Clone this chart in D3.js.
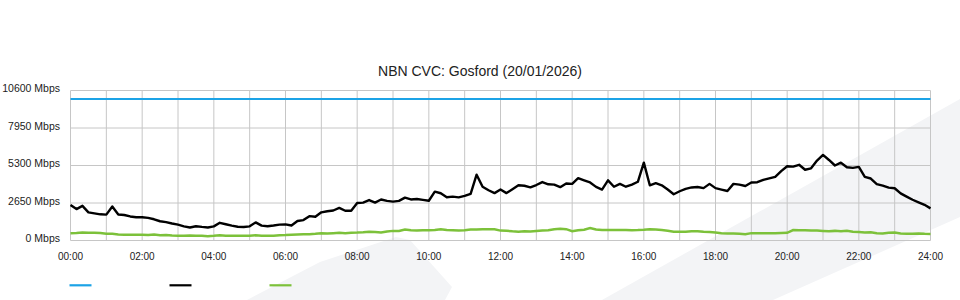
<!DOCTYPE html>
<html>
<head>
<meta charset="utf-8">
<script src="https://cdn.jsdelivr.net/npm/d3@7"></script>
<style>
  body { margin: 0; background: #fff; }
  text { font-family: "Liberation Sans", Arial, sans-serif; fill: #222; }
</style>
</head>
<body>
<svg id="chart" width="960" height="300"></svg>
<script>
// chart values (Mbps), one sample every 10 minutes from 00:00 to 24:00
const title = "NBN CVC: Gosford (20/01/2026)";
const stepMinutes = 10;

const capacity = [10000, 10000]; // flat line, 00:00 -> 24:00

const traffic = [
  2510, 2220, 2450, 1990, 1920, 1850,
  1830, 2400, 1840, 1800, 1700, 1640,
  1640, 1600, 1500, 1360, 1300, 1200,
  1120, 1000, 920, 1010, 960, 920,
  1000, 1250, 1150, 1050, 970, 950,
  1000, 1280, 1050, 1010, 1060, 1120,
  1140, 1060, 1380, 1440, 1720, 1680,
  1990, 2070, 2120, 2300, 2100, 2100,
  2650, 2680, 2860, 2680, 2900, 2800,
  2750, 2800, 3030, 2900, 2930, 2870,
  2810, 3450, 3340, 3060, 3100, 3050,
  3150, 3300, 4650, 3800, 3550, 3350,
  3600, 3350, 3620, 3900, 3870, 3760,
  3920, 4130, 3970, 3950, 3770, 4030,
  4000, 4400, 4250, 4100, 3790, 3600,
  4250, 3800, 4000, 3800, 3950, 4150,
  5500, 3900, 4050, 3900, 3600, 3270,
  3480, 3650, 3750, 3780, 3700, 4000,
  3700, 3600, 3500, 4000, 3950, 3850,
  4100, 4120, 4280, 4390, 4500, 4900,
  5250, 5220, 5350, 5000, 5100, 5650,
  6050, 5690, 5300, 5500, 5180, 5130,
  5200, 4500, 4380, 3990, 3880, 3740,
  3690, 3330, 3100, 2880, 2700, 2520,
  2270
];

const upstream = [
  510, 530, 560, 540, 540, 530,
  470, 470, 420, 400, 400, 400,
  400, 390, 420, 370, 380, 350,
  340, 340, 360, 340, 340, 300,
  330, 370, 340, 340, 340, 340,
  340, 370, 340, 330, 340, 370,
  380, 400, 420, 440, 440, 470,
  510, 500, 520, 540, 520, 550,
  560, 580, 620, 600, 560, 640,
  680, 680, 780, 720, 700, 730,
  730, 750, 800, 740, 720, 700,
  720, 780, 780, 800, 800, 800,
  700, 690, 650, 620, 650, 630,
  670, 700, 720, 800, 830, 800,
  660, 730, 760, 880, 780, 750,
  750, 750, 750, 750, 730, 740,
  760, 800, 780, 740, 690, 620,
  610, 620, 650, 660, 620, 600,
  560, 520, 500, 490, 480, 440,
  520, 520, 520, 520, 520, 530,
  540, 740, 720, 720, 710, 700,
  680, 660, 680, 650, 690, 620,
  600, 560, 590, 520, 500, 540,
  570, 500, 480, 480, 500, 470,
  460
];

const yTicks = [0, 2650, 5300, 7950, 10600];
const xTickLabels = ["00:00", "02:00", "04:00", "06:00", "08:00", "10:00", "12:00",
                     "14:00", "16:00", "18:00", "20:00", "22:00", "24:00"];

const colors = { capacity: "#1ca3e6", traffic: "#000000", upstream: "#7cc13a" };

const svg = d3.select("#chart");

// faint background watermark shapes
const bg = svg.append("g").attr("fill", "#f3f4f6");
bg.append("polygon").attr("points", "960,99 602,300 773,300 960,217");
bg.append("polygon").attr("points", "247,300 320,262 396,237 410,240 452,287 445,300");

const x = d3.scaleLinear().domain([0, 1440]).range([70.5, 930.5]);
const y = d3.scaleLinear().domain([0, 10600]).range([240.5, 90.5]);

// grid
const grid = svg.append("g").attr("stroke", "#c6c6c6").attr("stroke-width", 1);
grid.selectAll("line.v")
  .data(d3.range(0, 1441, 60))
  .enter().append("line")
  .attr("x1", d => x(d)).attr("x2", d => x(d))
  .attr("y1", y(10600)).attr("y2", y(0));
grid.selectAll("line.h")
  .data(yTicks)
  .enter().append("line")
  .attr("x1", x(0)).attr("x2", x(1440))
  .attr("y1", d => y(d)).attr("y2", d => y(d));

// y labels
svg.append("g").selectAll("text")
  .data(yTicks)
  .enter().append("text")
  .attr("x", 60)
  .attr("y", d => y(d) + 1.5)
  .attr("text-anchor", "end")
  .attr("font-size", "10.5px")
  .text(d => d + " Mbps");

// x labels
svg.append("g").selectAll("text")
  .data(xTickLabels)
  .enter().append("text")
  .attr("x", (d, i) => x(i * 120))
  .attr("y", 259.5)
  .attr("text-anchor", "middle")
  .attr("font-size", "10px")
  .text(d => d);

// title
svg.append("text")
  .attr("x", 480).attr("y", 76)
  .attr("text-anchor", "middle")
  .attr("font-size", "14px")
  .text(title);

const line = d3.line()
  .x(d => x(d.t))
  .y(d => y(d.v));

function series(values, step) {
  return values.map((v, i) => ({t: i * step, v}));
}

svg.append("path")
  .datum(series(capacity, 1440))
  .attr("fill", "none")
  .attr("stroke", colors.capacity)
  .attr("stroke-width", 2.2)
  .attr("d", line);

svg.append("path")
  .datum(series(upstream, stepMinutes))
  .attr("fill", "none")
  .attr("stroke", colors.upstream)
  .attr("stroke-width", 2.5)
  .attr("d", line);

svg.append("path")
  .datum(series(traffic, stepMinutes))
  .attr("fill", "none")
  .attr("stroke", colors.traffic)
  .attr("stroke-width", 2.4)
  .attr("stroke-linejoin", "round")
  .attr("d", line);

// legend (swatches only)
const legend = svg.append("g");
legend.selectAll("line")
  .data([colors.capacity, colors.traffic, colors.upstream])
  .enter().append("line")
  .attr("x1", (d, i) => 69.5 + i * 100)
  .attr("x2", (d, i) => 91.5 + i * 100)
  .attr("y1", 285.3).attr("y2", 285.3)
  .attr("stroke", d => d)
  .attr("stroke-width", 2.2);
</script>
</body>
</html>
